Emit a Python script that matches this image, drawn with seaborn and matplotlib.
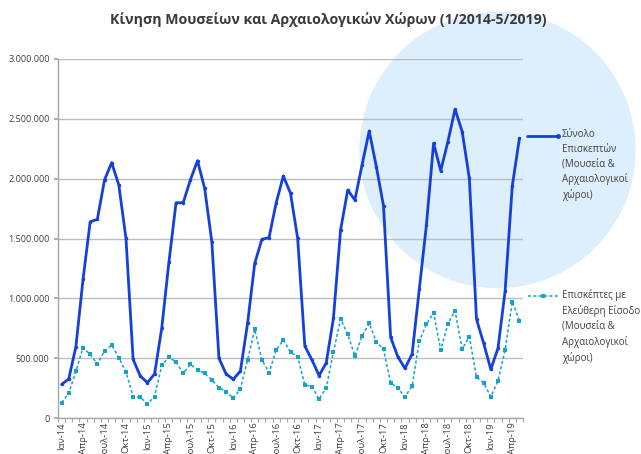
import numpy as np
import pandas as pd
import seaborn as sns
import matplotlib as mpl
from matplotlib import pyplot as plt
from matplotlib.patches import Ellipse
from matplotlib.ticker import FuncFormatter, FixedLocator

# monthly visitors, 1/2014 - 5/2019 (thousands)
total_k = [281, 326, 596, 1159, 1640, 1660, 1989, 2134, 1947, 1502, 490, 351,
           295, 368, 750, 1300, 1799, 1799, 1989, 2150, 1919, 1473, 499, 368,
           323, 393, 791, 1293, 1493, 1507, 1799, 2022, 1878, 1502, 602, 485,
           354, 462, 833, 1571, 1905, 1822, 2114, 2398, 2100, 1772, 674, 512,
           415, 535, 1075, 1613, 2296, 2067, 2309, 2580, 2393, 2003, 825, 624,
           407, 582, 1061, 1939, 2337]
free_k = [128, 206, 390, 588, 532, 451, 560, 610, 504, 384, 178, 173,
          120, 178, 440, 510, 468, 373, 449, 401, 373, 318, 253, 220,
          165, 245, 485, 741, 485, 379, 568, 652, 549, 512, 278, 262,
          156, 253, 549, 827, 699, 518, 685, 791, 638, 574, 295, 248,
          178, 267, 643, 783, 880, 568, 786, 897, 577, 680, 340, 295,
          178, 309, 568, 972, 813]
month_names = ['Ιαν', 'Φεβ', 'Μαρ', 'Απρ', 'Μαϊ', 'Ιουν',
               'Ιουλ', 'Αυγ', 'Σεπ', 'Οκτ', 'Νοε', 'Δεκ']
years = [14, 15, 16, 17, 18, 19]

title = 'Κίνηση Μουσείων και Αρχαιολογικών Χώρων (1/2014-5/2019)'
label_total = 'Σύνολο\nΕπισκεπτών\n(Μουσεία &\nΑρχαιολογικοί\nχώροι)'
label_free = 'Επισκέπτες με\nΕλεύθερη Είσοδο\n(Μουσεία &\nΑρχαιολογικοί\nχώροι)'

months = [f'{m}-{y}' for y in years for m in month_names][:len(total_k)]
df = pd.DataFrame({'idx': np.arange(len(months)),
                   'total': np.array(total_k) * 1000,
                   'free': np.array(free_k) * 1000})

sns.set_theme(style='white')
plt.rcParams['font.family'] = ['Open Sans', 'DejaVu Sans']

fig = plt.figure(figsize=(6.41, 4.54), dpi=100)
ax = fig.add_axes([58 / 641, 1 - 418 / 454, 465 / 641, 359 / 454])
ax.patch.set_visible(False)

# decorative light-blue circle behind the plot
fig.add_artist(Ellipse((497.5 / 641, 1 - 150 / 454), 275 / 641, 275 / 454,
                       transform=fig.transFigure, color='#DDEEFC', zorder=-5))

sns.lineplot(data=df, x='idx', y='total', ax=ax, color='#1440DC', lw=2.0,
             marker='o', markersize=2.5, markeredgewidth=0, zorder=3)
sns.lineplot(data=df, x='idx', y='free', ax=ax, color='#17A2C9', lw=1.1,
             linestyle=(0, (2, 1.5)), marker='s', markersize=3.2,
             markeredgewidth=0, zorder=3)

ax.set_xlim(-0.5, len(months) - 0.5)
ax.set_ylim(0, 3_000_000)
ax.set_yticks(np.arange(0, 3_000_001, 500_000))
ax.yaxis.set_major_formatter(FuncFormatter(lambda v, p: f'{int(v):,}'.replace(',', '.')))
ax.grid(axis='y', color='#BDBDBD', lw=1.0, zorder=0)
ax.set_axisbelow(True)

ticks = list(range(0, len(months), 3))
ax.set_xticks(ticks)
ax.set_xticklabels([months[i] for i in ticks], rotation=90, fontsize=6.8, color='#404040')
ax.xaxis.set_minor_locator(FixedLocator(np.arange(-0.5, len(months), 1)))
ax.tick_params(axis='x', which='major', length=0, pad=3)
ax.tick_params(axis='x', which='minor', length=3, color='#A6A6A6', width=0.8, bottom=True)
ax.tick_params(axis='y', length=3, color='#A6A6A6', labelsize=6.6, labelcolor='#404040', pad=3, left=True)
ax.set_xlabel('')
ax.set_ylabel('')

for s in ['top', 'right']:
    ax.spines[s].set_visible(False)
for s in ['left', 'bottom']:
    ax.spines[s].set_color('#A6A6A6')
    ax.spines[s].set_linewidth(1.0)

fig.text(328 / 641, 1 - 20 / 454, title, ha='center', va='center',
         fontsize=10.2, fontweight='bold', color='#3A3A3A')

# legend, Excel style on the right
fig.add_artist(plt.Line2D([527 / 641, 558 / 641], [1 - 136 / 454] * 2, color='#1440DC',
                          lw=2.0, marker='o', markersize=2.5, markevery=[1], transform=fig.transFigure))
fig.add_artist(plt.Line2D([528 / 641, 558 / 641], [1 - 296 / 454] * 2, color='#17A2C9',
                          lw=1.1, linestyle=(0, (2, 1.5)), transform=fig.transFigure))
fig.add_artist(plt.Line2D([543 / 641], [1 - 296 / 454], color='#17A2C9', marker='s',
                          markersize=3.2, markeredgewidth=0, transform=fig.transFigure))
fig.text(562 / 641, 1 - 129 / 454, label_total, ha='left', va='top', fontsize=7,
         color='#404040', linespacing=1.45)
fig.text(562 / 641, 1 - 289 / 454, label_free, ha='left', va='top', fontsize=7,
         color='#404040', linespacing=1.45)

fig.savefig('out.png', dpi=100)
